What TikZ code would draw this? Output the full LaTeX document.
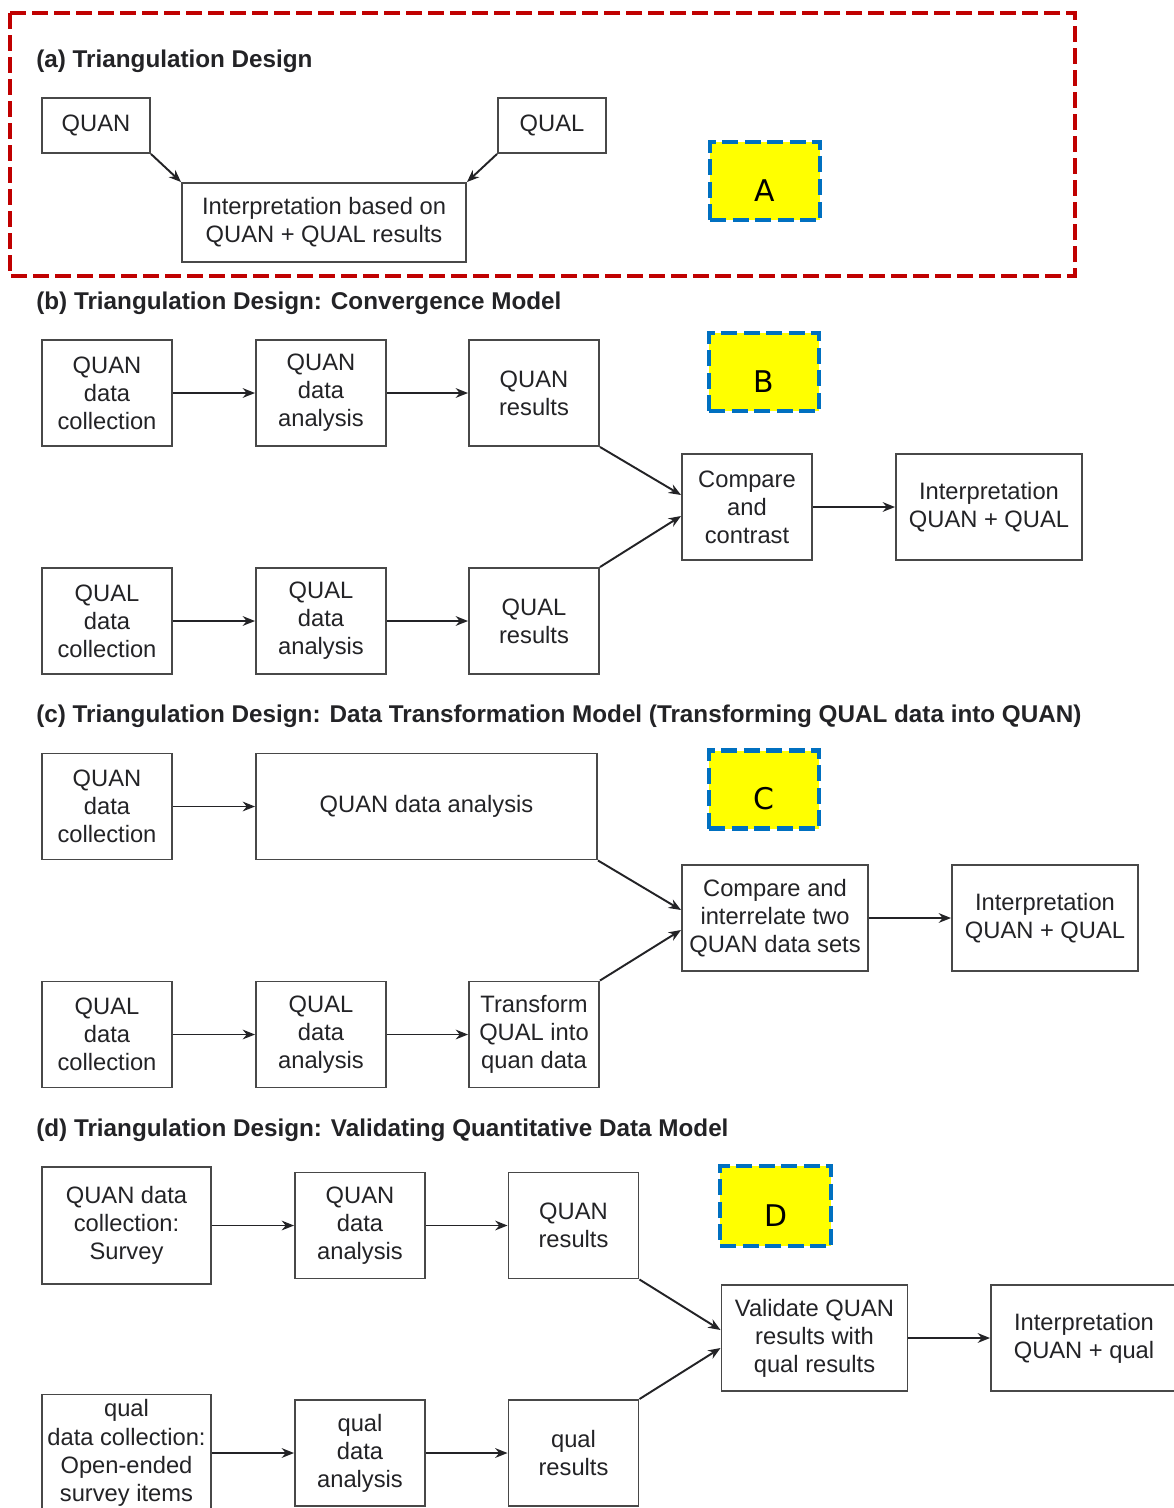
\documentclass[tikz,border=0pt]{standalone}
\usepackage{fontspec}
\setmainfont{Liberation Sans}
\newfontfamily\tagfont{DejaVu Sans}
\usetikzlibrary{arrows.meta}

\definecolor{ink}{RGB}{35,35,38}
\definecolor{boxline}{RGB}{72,72,72}
\definecolor{framered}{RGB}{192,0,0}
\definecolor{tagblue}{RGB}{0,112,192}
\definecolor{tagyellow}{RGB}{255,255,0}
\tikzset{
    stage/.style={
        rectangle,
        draw=boxline,
        line width=1.1pt,
        fill=white,
        text=ink,
        align=center,
        inner sep=2pt,
        minimum width=2.6cm,
        minimum height=2.12cm,
        font=\fontsize{13.5}{16}\selectfont
    },
    widestage/.style={stage, minimum width=3.72cm},
    flow/.style={
        -{Stealth[length=7pt, width=5.5pt]},
        draw=ink,
        line width=1.1pt
    },
    designtitle/.style={
        font=\fontsize{13.8}{16}\selectfont\bfseries,
        text=ink,
        anchor=base west,
        inner sep=0pt
    },
    lettertag/.style={
        rectangle,
        fill=tagyellow,
        draw=tagblue,
        line width=2.4pt,
        dash pattern=on 0.32cm off 0.13cm,
        font=\tagfont\fontsize{17}{20}\selectfont,
        text=black,
        text height=0.8cm,
        text depth=0pt,
        minimum width=2.2cm,
        minimum height=1.56cm
    },
    groupframe/.style={
        draw=framered,
        line width=2.3pt,
        dash pattern=on 0.32cm off 0.12cm
    }
}

\begin{document}
\begin{tikzpicture}

\useasboundingbox (0,0) rectangle (23.48,-30.16);
\clip (0,0) rectangle (23.48,-30.16);
\fill[white] (0,0) rectangle (23.48,-30.16);

% (a) simple triangulation
\draw[groupframe] (0.2,-0.26) rectangle (21.5,-5.52);
\node[designtitle] (ta) at (0.72,-1.34) {(a) Triangulation Design};
\node[stage, minimum width=2.16cm, minimum height=1.1cm] (aquan) at (1.92,-2.51) {QUAN};
\node[stage, minimum width=2.16cm, minimum height=1.1cm] (aqual) at (11.04,-2.51) {QUAL};
\node[stage, minimum width=5.68cm, minimum height=1.58cm] (ainterp) at (6.48,-4.45) {Interpretation based on\\QUAN + QUAL results};
\draw[flow] (aquan.south east) -- (ainterp.north west);
\draw[flow] (aqual.south west) -- (ainterp.north east);
\node[lettertag] (taga) at (15.3,-3.62) {A};

% (b) convergence
\node[designtitle] (tb) at (0.72,-6.18) {(b) Triangulation Design: Convergence Model};
\node[stage] (bqn1) at (2.14,-7.86) {QUAN\\data\\collection};
\node[stage] (bqn2) at (6.42,-7.86) {QUAN\\data\\analysis};
\node[stage] (bqn3) at (10.68,-7.86) {QUAN\\results};
\node[stage] (bql1) at (2.14,-12.42) {QUAL\\data\\collection};
\node[stage] (bql2) at (6.42,-12.42) {QUAL\\data\\analysis};
\node[stage] (bql3) at (10.68,-12.42) {QUAL\\results};
\node[stage] (bcmp) at (14.94,-10.14) {Compare\\and\\contrast};
\node[widestage] (bint) at (19.78,-10.14) {Interpretation\\QUAN + QUAL};
\foreach \a/\b in {bqn1/bqn2, bqn2/bqn3, bql1/bql2, bql2/bql3, bcmp/bint} {
    \draw[flow] (\a.east) -- (\b.west);
}
\draw[flow] (bqn3.south east) -- ([yshift=0.24cm]bcmp.west);
\draw[flow] (bql3.north east) -- ([yshift=-0.18cm]bcmp.west);
\node[lettertag] (tagb) at (15.28,-7.44) {B};

% (c) data transformation
\node[designtitle] (tc) at (0.72,-14.44) {(c) Triangulation Design: Data Transformation Model (Transforming QUAL data into QUAN)};
\node[stage] (cqn1) at (2.14,-16.13) {QUAN\\data\\collection};
\node[stage, minimum width=6.82cm] (cqn2) at (8.53,-16.13) {QUAN data analysis};
\node[stage] (cql1) at (2.14,-20.69) {QUAL\\data\\collection};
\node[stage] (cql2) at (6.42,-20.69) {QUAL\\data\\analysis};
\node[stage] (cql3) at (10.68,-20.69) {Transform\\QUAL into\\quan data};
\node[widestage] (ccmp) at (15.5,-18.36) {Compare and\\interrelate two\\QUAN data sets};
\node[widestage] (cint) at (20.9,-18.36) {Interpretation\\QUAN + QUAL};
\foreach \a/\b in {cqn1/cqn2, cql1/cql2, cql2/cql3, ccmp/cint} {
    \draw[flow] (\a.east) -- (\b.west);
}
\draw[flow] (cqn2.south east) -- ([yshift=0.16cm]ccmp.west);
\draw[flow] (cql3.north east) -- ([yshift=-0.24cm]ccmp.west);
\node[lettertag] (tagc) at (15.28,-15.79) {C};

% (d) validating quantitative data
\node[designtitle] (td) at (0.72,-22.72) {(d) Triangulation Design: Validating Quantitative Data Model};
\node[stage, minimum width=3.38cm, minimum height=2.34cm] (dqn1) at (2.53,-24.51) {QUAN data\\collection:\\Survey};
\node[stage] (dqn2) at (7.2,-24.51) {QUAN\\data\\analysis};
\node[stage] (dqn3) at (11.47,-24.51) {QUAN\\results};
\node[stage, minimum width=3.38cm, minimum height=2.34cm] (dql1) at (2.53,-29.06) {qual\\data collection:\\Open-ended\\survey items};
\node[stage] (dql2) at (7.2,-29.06) {qual\\data\\analysis};
\node[stage] (dql3) at (11.47,-29.06) {qual\\results};
\node[widestage] (dval) at (16.29,-26.76) {Validate QUAN\\results with\\qual results};
\node[widestage] (dint) at (21.68,-26.76) {Interpretation\\QUAN + qual};
\foreach \a/\b in {dqn1/dqn2, dqn2/dqn3, dql1/dql2, dql2/dql3, dval/dint} {
    \draw[flow] (\a.east) -- (\b.west);
}
\draw[flow] (dqn3.south east) -- ([yshift=0.16cm]dval.west);
\draw[flow] (dql3.north east) -- ([yshift=-0.2cm]dval.west);
\node[lettertag, minimum width=2.22cm, minimum height=1.6cm] (tagd) at (15.51,-24.12) {D};

\end{tikzpicture}
\end{document}
